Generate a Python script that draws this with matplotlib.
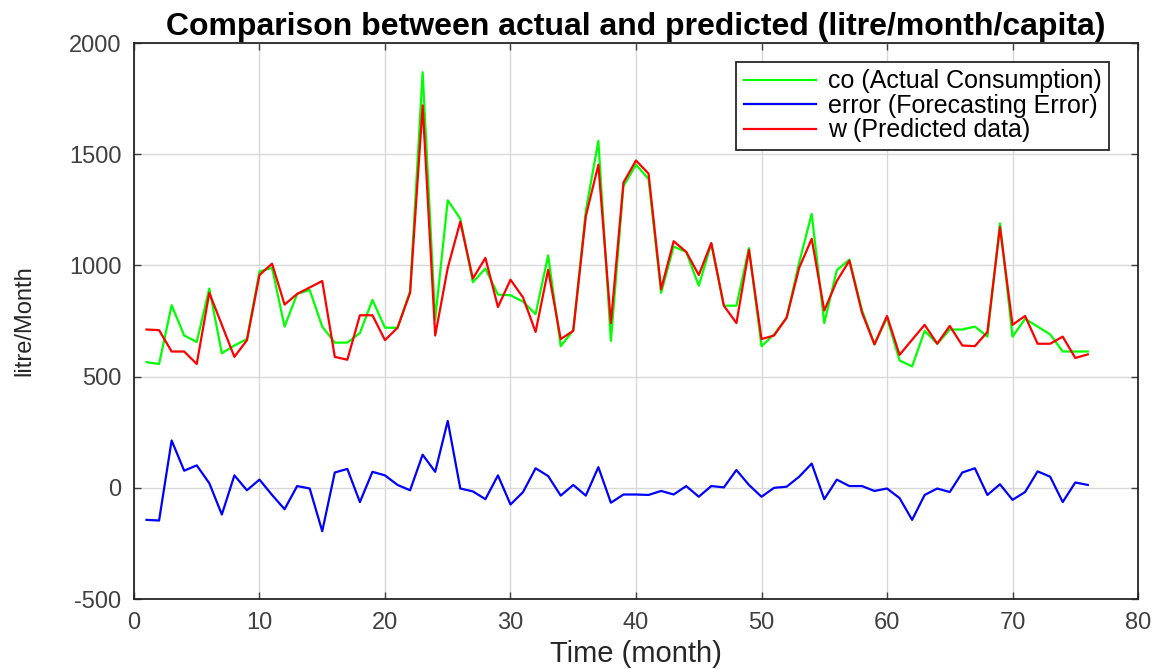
import numpy as np
import matplotlib
matplotlib.use("Agg")
import matplotlib.pyplot as plt

plt.rcParams['font.family'] = ['Liberation Sans', 'DejaVu Sans']
plt.rcParams['axes.unicode_minus'] = False

# months 1..76
months = list(range(1, 77))

co = [565, 557, 821, 685, 656, 896, 605, 640, 669, 973,
      989, 725, 872, 890, 725, 653, 653, 696, 845, 720,
      720, 885, 1869, 757, 1293, 1210, 925, 986, 869, 866,
      837, 781, 1045, 637, 709, 1245, 1560, 661, 1357, 1453,
      1389, 877, 1085, 1061, 909, 1098, 819, 819, 1078, 637,
      690, 765, 1013, 1232, 741, 979, 1026, 800, 645, 765,
      573, 546, 706, 648, 712, 712, 725, 680, 1189, 680,
      760, 725, 690, 613, 613, 613]

error = [-144, -147, 213, 77, 101, 21, -120, 56, -11, 37,
         -32, -96, 8, -3, -195, 69, 85, -64, 72, 56,
         13, -11, 149, 72, 301, -3, -16, -51, 56, -75,
         -19, 88, 53, -35, 13, -35, 93, -67, -30, -30,
         -32, -14, -30, 8, -40, 8, 2, 80, 13, -40,
         0, 5, 50, 109, -51, 37, 8, 8, -14, -3,
         -46, -144, -32, -3, -19, 69, 88, -32, 16, -54,
         -19, 74, 50, -64, 24, 13]

w = [712, 709, 613, 613, 557, 877, 733, 589, 664, 957,
     1008, 824, 872, 901, 930, 589, 576, 776, 776, 664,
     720, 877, 1720, 685, 989, 1197, 941, 1034, 813, 936,
     856, 701, 981, 669, 706, 1221, 1453, 741, 1373, 1472,
     1413, 893, 1109, 1061, 957, 1101, 819, 741, 1070, 669,
     685, 765, 989, 1120, 797, 930, 1022, 789, 645, 773,
     598, 666, 733, 648, 728, 640, 637, 701, 1173, 733,
     773, 648, 648, 680, 584, 600]

labels = ["co (Actual Consumption)", "error (Forecasting Error)", "w (Predicted data)"]

fig = plt.figure(figsize=(11.57, 6.69), dpi=100)
ax = fig.add_axes([0.1158, 0.1046, 0.8678, 0.831])

ax.plot(months, co, color=(0, 1, 0), lw=1.6, label=labels[0])
ax.plot(months, error, color=(0, 0, 1), lw=1.6, label=labels[1])
ax.plot(months, w, color=(1, 0, 0), lw=1.6, label=labels[2])

ax.set_xlim(0, 80)
ax.set_ylim(-500, 2000)
ax.set_xticks(np.arange(0, 81, 10))
ax.set_yticks(np.arange(-500, 2001, 500))
ax.grid(True, color="#d9d9d9", lw=1.0)
ax.set_axisbelow(True)
ax.tick_params(direction="in", top=True, right=True, length=5, width=1.0,
               labelsize=17, colors="#404040", pad=9)
for s in ax.spines.values():
    s.set_color("#262626")
    s.set_linewidth(1.3)

ax.set_title("Comparison between actual and predicted (litre/month/capita)",
             fontsize=23, fontweight="bold", pad=6)
ax.set_xlabel("Time (month)", fontsize=21, color="#262626", labelpad=5)
ax.set_ylabel("litre/Month", fontsize=17, color="#262626", labelpad=24)

leg = ax.legend(loc="upper right", bbox_to_anchor=(0.971, 0.966), fontsize=18,
                fancybox=False, framealpha=1, edgecolor="#262626",
                handlelength=2.9, handletextpad=0.45, borderpad=0.3,
                labelspacing=0.02, borderaxespad=0)
leg.get_frame().set_linewidth(1.3)

fig.savefig("out.png", dpi=100)
